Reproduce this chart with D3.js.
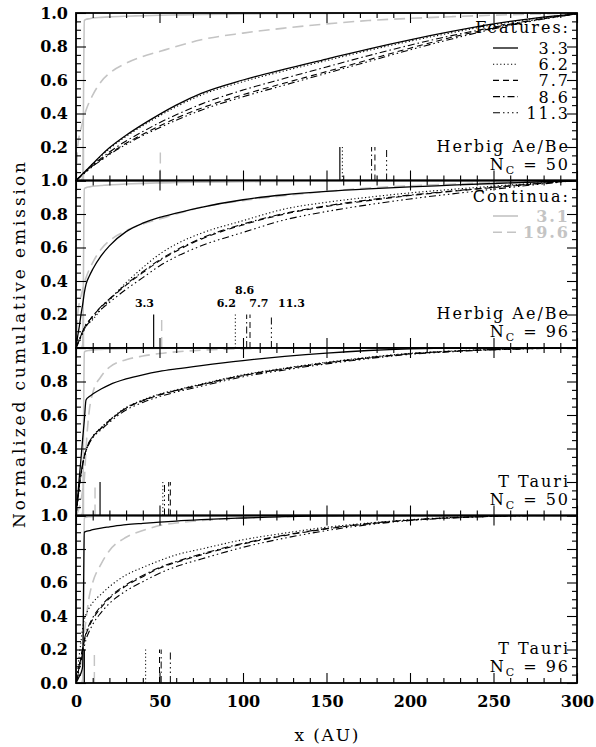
<!DOCTYPE html>
<html><head><meta charset="utf-8">
<script src="https://cdn.jsdelivr.net/npm/d3@7"></script>
<style>
body{margin:0;background:#fff}
svg{display:block}
text{font-family:"DejaVu Serif",serif;fill:#000}
</style>
</head><body>
<svg id="chart" width="596" height="747"></svg>
<script>
// ---------- DATA ----------
const xGrid = [0,1,2,3,4,5,6,8,10,15,20,30,40,50,60,75,100,125,150,175,200,225,250,275,300];

// Panel 1: Herbig Ae/Be, N_C = 50
const hae50_c31  = [0,0,0,0,0.02,0.955,0.962,0.966,0.97,0.974,0.977,0.981,0.984,0.987,0.989,0.991,0.994,0.996,0.998,0.999,1,1,1,1,1];
const hae50_c196 = [0,0.2,0.27,0.31,0.35,0.39,0.42,0.47,0.51,0.59,0.64,0.70,0.74,0.77,0.80,0.84,0.88,0.91,0.935,0.955,0.968,0.978,0.987,0.994,1.0];
const hae50_f33  = [0,.01,.02,.03,.04,.05,.06,.08,.10,.15,.195,.27,.335,.395,.45,.52,.60,.665,.725,.785,.84,.89,.935,.97,.995];
const hae50_f62  = [0,.01,.02,.03,.04,.05,.06,.08,.098,.145,.19,.263,.327,.386,.44,.51,.59,.655,.716,.776,.832,.882,.93,.967,.995];
const hae50_f77  = [0,.009,.018,.027,.036,.045,.054,.07,.088,.125,.16,.222,.276,.326,.372,.432,.512,.582,.65,.72,.79,.855,.91,.958,.995];
const hae50_f86  = [0,.01,.019,.028,.038,.047,.056,.074,.093,.132,.17,.236,.292,.345,.392,.456,.54,.61,.678,.745,.808,.865,.915,.96,.995];
const hae50_f113 = [0,.009,.017,.026,.034,.043,.051,.067,.084,.12,.155,.215,.268,.315,.36,.42,.50,.57,.64,.71,.78,.845,.905,.955,.995];
const hae50_marks = [4.5, 50.5, 158, 159.5, 179, 177, 186];

// Panel 2: Herbig Ae/Be, N_C = 96
const hae96_c31  = [0,0,0,0,0.02,0.95,0.957,0.962,0.966,0.97,0.974,0.979,0.983,0.986,0.988,0.99,0.993,0.995,0.997,0.998,0.999,1,1,1,1];
const hae96_c196 = [0,0.2,0.27,0.31,0.35,0.39,0.42,0.47,0.51,0.59,0.64,0.70,0.74,0.77,0.80,0.84,0.88,0.91,0.935,0.955,0.968,0.978,0.987,0.994,1.0];
const hae96_f33  = [0,.07,.13,.2,.26,.33,.38,.43,.47,.55,.61,.695,.745,.78,.805,.84,.885,.915,.935,.95,.962,.972,.982,.991,1.0];
const hae96_f62  = [0,.022,.045,.068,.09,.11,.13,.15,.17,.23,.285,.39,.48,.56,.62,.685,.76,.83,.87,.90,.926,.947,.966,.984,1.0];
const hae96_f77  = [0,.025,.05,.075,.1,.12,.14,.165,.19,.245,.29,.375,.45,.52,.578,.65,.735,.80,.845,.88,.91,.935,.958,.98,1.0];
const hae96_f86  = [0,.025,.05,.075,.1,.12,.14,.165,.19,.247,.293,.38,.456,.526,.584,.655,.74,.804,.849,.884,.913,.937,.96,.981,1.0];
const hae96_f113 = [0,.023,.046,.069,.09,.11,.13,.155,.18,.23,.272,.35,.42,.49,.545,.61,.69,.765,.815,.855,.89,.92,.948,.975,1.0];
const hae96_marks = [4.5, 51.3, 46.5, 95.4, 104.2, 102.2, 117];

// Panel 3: T Tauri, N_C = 50
const tt50_c31  = [0,0,0,0,0.02,0.975,0.982,0.986,0.989,0.992,0.994,0.996,0.997,0.998,0.999,1,1,1,1,1,1,1,1,1,1];
const tt50_c196 = [0,.02,.05,.09,.15,.22,.40,.63,.73,.83,.885,.93,.952,.967,.977,.987,.995,1,1,1,1,1,1,1,1];
const tt50_f33  = [0,.11,.23,.34,.46,.57,.69,.71,.725,.755,.78,.815,.84,.86,.875,.895,.925,.95,.97,.985,.995,1,1,1,1];
const tt50_f62  = [0,.085,.17,.24,.30,.35,.385,.435,.47,.525,.57,.645,.69,.725,.75,.785,.84,.88,.915,.945,.968,.982,.992,.998,1];
const tt50_f77  = [0,.09,.18,.25,.31,.355,.39,.44,.47,.52,.565,.64,.685,.72,.745,.78,.835,.875,.91,.94,.965,.98,.99,.997,1];
const tt50_f86  = [0,.09,.18,.25,.31,.355,.39,.44,.472,.522,.567,.642,.687,.722,.747,.782,.837,.877,.912,.942,.966,.981,.991,.997,1];
const tt50_f113 = [0,.088,.175,.245,.305,.35,.385,.432,.463,.512,.556,.63,.675,.71,.737,.772,.828,.869,.905,.936,.962,.978,.989,.996,1];
const tt50_marks = [4.5, 11.4, 14.4, 52, 56.5, 55.5, 53];

// Panel 4: T Tauri, N_C = 96
const tt96_c31  = [0,0,0,0,0.02,0.985,0.99,0.993,0.995,0.997,0.998,0.999,1,1,1,1,1,1,1,1,1,1,1,1,1];
const tt96_c196 = [0,.03,.07,.12,.2,.3,.38,.52,.60,.71,.79,.87,.91,.94,.955,.97,.985,.993,1,1,1,1,1,1,1];
const tt96_f33  = [0,.02,.04,.06,.1,.9,.905,.91,.915,.925,.932,.945,.953,.96,.967,.975,.985,.993,.998,1,1,1,1,1,1];
const tt96_f62  = [0,.08,.17,.25,.33,.38,.41,.45,.48,.53,.575,.645,.69,.73,.765,.80,.855,.895,.93,.955,.975,.988,.995,1,1];
const tt96_f77  = [0,.05,.1,.15,.2,.25,.29,.34,.38,.45,.505,.58,.635,.685,.72,.765,.83,.88,.92,.95,.972,.986,.995,1,1];
const tt96_f86  = [0,.055,.11,.16,.21,.26,.30,.35,.39,.46,.512,.587,.642,.69,.725,.77,.834,.883,.922,.952,.973,.987,.995,1,1];
const tt96_f113 = [0,.04,.09,.13,.18,.22,.26,.31,.35,.42,.475,.55,.605,.655,.695,.74,.81,.865,.91,.945,.97,.985,.995,1,1];
const tt96_marks = [4.5, 11, 5, 41.7, 50, 51, 56.5];

const seriesKeys = ["c31","c196","f33","f62","f77","f86","f113"];
const panelSample = ["Herbig Ae/Be","Herbig Ae/Be","T Tauri","T Tauri"];
const panelNc = ["50","96","50","96"];
const featureNames = ["3.3","6.2","7.7","8.6","11.3"];
const continuumNames = ["3.1","19.6"];
const xTicks = [0,50,100,150,200,250,300];
const yTicks = [0,0.2,0.4,0.6,0.8,1.0];
// labels of the marker lines in panel 2 (text, data-x, data-y)
const markLabelText = ["3.3","6.2","8.6","7.7","11.3"];
const markLabelX = [41, 90, 101, 109.5, 129];
const markLabelY = [0.247, 0.247, 0.32, 0.247, 0.247];

const panelsData = [
  [hae50_c31,hae50_c196,hae50_f33,hae50_f62,hae50_f77,hae50_f86,hae50_f113, hae50_marks],
  [hae96_c31,hae96_c196,hae96_f33,hae96_f62,hae96_f77,hae96_f86,hae96_f113, hae96_marks],
  [tt50_c31,tt50_c196,tt50_f33,tt50_f62,tt50_f77,tt50_f86,tt50_f113, tt50_marks],
  [tt96_c31,tt96_c196,tt96_f33,tt96_f62,tt96_f77,tt96_f86,tt96_f113, tt96_marks]
];

// ---------- STYLE ----------
const GRAY = "#c4c4c4";
const styles = {
  c31:  {stroke: GRAY, width: 1.6, dash: null},
  c196: {stroke: GRAY, width: 1.6, dash: "11,6"},
  f33:  {stroke: "#000", width: 1.3, dash: null},
  f62:  {stroke: "#000", width: 1.1, dash: "1.2,2.4"},
  f77:  {stroke: "#000", width: 1.1, dash: "6,4"},
  f86:  {stroke: "#000", width: 1.1, dash: "7,3,1.5,3"},
  f113: {stroke: "#000", width: 1.1, dash: "7,3,1.5,3,1.5,3,1.5,3"}
};

const svg = d3.select("#chart");
const X0 = 76, X1 = 577;
const panelTop0 = 13, panelH = 167.5;
const x = d3.scaleLinear().domain([0,300]).range([X0, X1]);

panelsData.forEach((pd, pi) => {
  const top = panelTop0 + pi*panelH, bot = top + panelH;
  const y = d3.scaleLinear().domain([0,1]).range([bot, top]);
  const g = svg.append("g");
  const clipId = "clip"+pi;
  svg.append("clipPath").attr("id", clipId).append("rect")
     .attr("x", X0).attr("y", top).attr("width", X1-X0).attr("height", panelH);

  const line = d3.line().x(d => x(d[0])).y(d => y(d[1])).curve(d3.curveMonotoneX);
  const curves = g.append("g").attr("clip-path", `url(#${clipId})`);
  seriesKeys.forEach((k, si) => {
    const st = styles[k];
    const pts = xGrid.map((xv, i) => [xv, pd[si][i]]);
    curves.append("path").attr("d", line(pts)).attr("fill","none")
      .attr("stroke", st.stroke).attr("stroke-width", st.width)
      .attr("stroke-dasharray", st.dash);
    const mx = pd[7][si];
    curves.append("line").attr("x1", x(mx)).attr("x2", x(mx))
      .attr("y1", y(0)).attr("y2", y(0.2))
      .attr("stroke", st.stroke).attr("stroke-width", st.width*0.9)
      .attr("stroke-dasharray", st.dash);
  });

  const yMinor = d3.range(0, 1.0001, 0.05).filter(v => Math.abs(v*5 - Math.round(v*5)) > 1e-6);
  const xMinor = d3.range(0, 301, 10).filter(v => v % 50 !== 0);
  const fmt = d3.format(".1f");
  const left = g.append("g").attr("transform", `translate(${X0},0)`)
    .call(d3.axisLeft(y).tickValues(yTicks).tickSizeInner(-10).tickSizeOuter(0).tickPadding(8)
      .tickFormat(v => (pi < 3 && v === 0) ? "" : fmt(v)));
  left.selectAll("text").style("font-family","DejaVu Serif").style("font-size","16px").style("font-weight","bold").attr("fill","#000");
  g.append("g").attr("transform", `translate(${X0},0)`)
    .call(d3.axisLeft(y).tickValues(yMinor).tickSizeInner(-5).tickSizeOuter(0).tickFormat(""));
  g.append("g").attr("transform", `translate(${X1},0)`)
    .call(d3.axisRight(y).tickValues(yTicks).tickSizeInner(-10).tickSizeOuter(0).tickFormat(""));
  g.append("g").attr("transform", `translate(${X1},0)`)
    .call(d3.axisRight(y).tickValues(yMinor).tickSizeInner(-5).tickSizeOuter(0).tickFormat(""));
  g.append("g").attr("transform", `translate(0,${top})`)
    .call(d3.axisBottom(x).tickValues(xTicks).tickSizeInner(10).tickSizeOuter(0).tickFormat(""));
  g.append("g").attr("transform", `translate(0,${top})`)
    .call(d3.axisBottom(x).tickValues(xMinor).tickSizeInner(5).tickSizeOuter(0).tickFormat(""));
  const bottomAx = g.append("g").attr("transform", `translate(0,${bot})`)
    .call(d3.axisBottom(x).tickValues(xTicks).tickSizeInner(-10).tickSizeOuter(0).tickPadding(13)
      .tickFormat(pi === 3 ? d3.format("d") : ""));
  bottomAx.selectAll("text").style("font-family","DejaVu Serif").style("font-size","16px").style("font-weight","bold").attr("fill","#000");
  g.append("g").attr("transform", `translate(0,${bot})`)
    .call(d3.axisTop(x).tickValues(xMinor).tickSizeInner(5).tickSizeOuter(0).tickFormat(""));
  g.selectAll(".domain").remove();
  g.selectAll(".tick line").attr("stroke","#000").attr("stroke-width",1.1);

  g.append("rect").attr("x", X0).attr("y", top).attr("width", X1-X0).attr("height", panelH)
    .attr("fill","none").attr("stroke","#000").attr("stroke-width",1.8);

  const lab = g.append("g").style("font-size","16px").style("letter-spacing","2px");
  lab.append("text").attr("x", 570).attr("y", bot-29).attr("text-anchor","end").text(panelSample[pi]);
  const nc = lab.append("text").attr("x", 570).attr("y", bot-11).attr("text-anchor","end");
  nc.append("tspan").text("N");
  nc.append("tspan").attr("dy", 4).style("font-size","11px").text("C");
  nc.append("tspan").attr("dy", -4).text(" = " + panelNc[pi]);
});

// Legends
const L = svg.append("g").style("font-size","16px").style("letter-spacing","2px");
const legX1 = 493, legX2 = 518, legTextX = 570;
L.append("text").attr("x", legTextX).attr("y", 33).attr("text-anchor","end").text("Features:");
featureNames.forEach((n, i) => {
  const k = ["f33","f62","f77","f86","f113"][i];
  const st = styles[k];
  const yy = 48 + i*16.2;
  L.append("line").attr("x1", legX1).attr("x2", legX2).attr("y1", yy).attr("y2", yy)
    .attr("stroke", st.stroke).attr("stroke-width", st.width).attr("stroke-dasharray", st.dash);
  L.append("text").attr("x", legTextX).attr("y", yy+6).attr("text-anchor","end").text(n);
});
L.append("text").attr("x", legTextX).attr("y", 201.5).attr("text-anchor","end").text("Continua:");
continuumNames.forEach((n, i) => {
  const k = ["c31","c196"][i];
  const st = styles[k];
  const yy = 216 + i*16.2;
  L.append("line").attr("x1", legX1).attr("x2", legX2).attr("y1", yy).attr("y2", yy)
    .attr("stroke", st.stroke).attr("stroke-width", st.width).attr("stroke-dasharray", k==="c196" ? "9,5" : null);
  L.append("text").attr("x", legTextX).attr("y", yy+6).attr("text-anchor","end")
    .style("font-weight","bold").style("fill", GRAY).text(n);
});

// marker labels in panel 2
const y2 = d3.scaleLinear().domain([0,1]).range([panelTop0 + 2*panelH, panelTop0 + panelH]);
markLabelText.forEach((t, i) => {
  svg.append("text").attr("x", x(markLabelX[i])).attr("y", y2(markLabelY[i]))
    .attr("text-anchor","middle").style("font-size","11px").style("font-weight","bold").text(t);
});

// axis titles
svg.append("text").attr("x", 326.5).attr("y", 741).attr("text-anchor","middle")
  .style("font-size","17px").attr("textLength", 64).attr("lengthAdjust","spacing").text("x (AU)");
svg.append("text").attr("transform","translate(25,345) rotate(-90)").attr("text-anchor","middle")
  .style("font-size","17px").attr("textLength", 366).attr("lengthAdjust","spacing")
  .text("Normalized cumulative emission");
</script>
</body></html>
